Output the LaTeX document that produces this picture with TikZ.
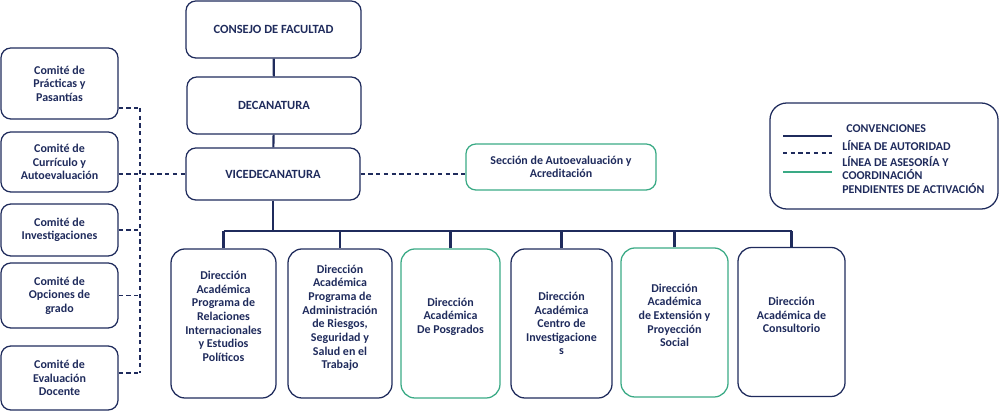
\documentclass[tikz,border=0pt]{standalone}
\usepackage{fontspec}
\setmainfont{Carlito}
\usepackage{xcolor}
\usetikzlibrary{positioning}
\definecolor{navy}{HTML}{1F2B5C}
\definecolor{verde}{HTML}{3AAA85}

\begin{document}
\begin{tikzpicture}[
  x=0.025cm, y=-0.025cm,
  every node/.style={font=\bfseries\fontsize{8.5}{9.7}\selectfont, text=navy, align=center},
  caja/.style={draw=navy, line width=0.9pt, rounded corners=7pt, inner sep=1pt},
  cajaverde/.style={caja, draw=verde},
  grande/.style={font=\bfseries\fontsize{8.9}{10}\selectfont},
  direccion/.style={caja, rounded corners=10pt, minimum height=3.725cm},
  comite/.style={caja, minimum width=2.925cm},
  autoridad/.style={navy, line width=1.5pt},
  asesoria/.style={navy, line width=0.8pt, dash pattern=on 3pt off 2.5pt},
  activacion/.style={verde, line width=0.9pt}
]
  \useasboundingbox (0,0) rectangle (1000,411);

  % linea de autoridad
  \node[caja, grande, minimum width=4.375cm, minimum height=1.425cm] (consejo) at (273.5,29.5) {CONSEJO DE FACULTAD};
  \node[caja, grande, minimum width=4.35cm, minimum height=1.425cm] (decanatura) at (274,105.5) {DECANATURA};
  \node[caja, grande, minimum width=4.35cm, minimum height=1.3cm] (vice) at (273,174) {VICEDECANATURA};
  \node[cajaverde, minimum width=4.75cm, minimum height=1.15cm] (seccion) at (561,167) {Sección de Autoevaluación y\\Acreditación};

  \node[direccion, minimum width=2.625cm] (dir1) at (223.5,323.5) {};
  \node[direccion, minimum width=2.6cm] (dir2) at (340,323.5) {};
  \node[direccion, draw=verde, minimum width=2.475cm] (dir3) at (450.5,323.5) {};
  \node[direccion, minimum width=2.525cm] (dir4) at (561.5,323.5) {};
  \node[direccion, draw=verde, minimum width=2.675cm] (dir5) at (674.5,322.5) {};
  \node[direccion, minimum width=2.675cm] (dir6) at (791.5,322) {};
  \node (txt1) at ([yshift=5pt]dir1.center) {Dirección\\Académica\\Programa de\\Relaciones\\Internacionales\\y Estudios\\Políticos};
  \node (txt2) at ([yshift=4pt]dir2.center) {Dirección\\Académica\\Programa de\\Administración\\de Riesgos,\\Seguridad y\\Salud en el\\Trabajo};
  \node (txt3) at ([yshift=5pt]dir3.center) {Dirección\\Académica\\De Posgrados};
  \node (txt4) at ([yshift=0pt]dir4.center) {Dirección\\Académica\\Centro de\\Investigacione\\s};
  \node (txt5) at ([yshift=5pt]dir5.center) {Dirección\\Académica\\de Extensión y\\Proyección\\Social};
  \node (txt6) at ([yshift=5pt]dir6.center) {Dirección\\Académica de\\Consultorio};

  % comites
  \node[comite, minimum height=1.775cm] (com1) at (59.5,83.5) {Comité de\\Prácticas y\\Pasantías};
  \node[comite, minimum height=1.5cm] (com2) at (59.5,162) {Comité de\\Currículo y\\Autoevaluación};
  \node[comite, minimum height=1.3cm] (com3) at (59.5,230) {Comité de\\Investigaciones};
  \node[comite, minimum height=1.625cm] (com4) at (59.5,295.5) {Comité de\\Opciones de\\grado};
  \node[comite, minimum height=1.6cm] (com5) at (59.5,378) {Comité de\\Evaluación\\Docente};

  \draw[autoridad] (consejo) -- (decanatura);
  \draw[autoridad] (decanatura) -- (vice);
  \draw[autoridad] (vice.south) -- ++(0,30) coordinate (bus);
  \draw[autoridad] (dir1.north |- bus) -- (dir6.north |- bus);
  \foreach \d in {dir1,dir2,dir3,dir4,dir5,dir6}
    \draw[autoridad] (\d.north) -- (\d.north |- bus);

  % asesoria
  \draw[asesoria] (vice.east) -- (vice.east -| seccion.west);
  \coordinate (asesor top) at (140,108);
  \coordinate (asesor bot) at (140,373);
  \draw[asesoria] (asesor top) -- (asesor bot);
  \draw[asesoria] (com1.east |- asesor top) -- (asesor top);
  \draw[asesoria] (com2.east |- vice.west) -- (vice.west);
  \draw[asesoria] (com3.east) -- (com3.east -| asesor top);
  \draw[asesoria] (com4.east) -- (com4.east -| asesor top);
  \draw[asesoria] (com5.east |- asesor bot) -- (asesor bot);

  % convenciones
  \node[caja, rounded corners=12pt, minimum width=5.7cm, minimum height=2.65cm] (convenciones) at (884,156) {};
  \coordinate (l1a) at (783,136); \coordinate (l1b) at (832,136);
  \coordinate (l2a) at (783,153); \coordinate (l2b) at (832,153);
  \coordinate (l3a) at (783,172); \coordinate (l3b) at (832,172);
  \draw[navy, line width=0.9pt] (l1a) -- (l1b);
  \draw[asesoria] (l2a) -- (l2b);
  \draw[activacion] (l3a) -- (l3b);
  \node[anchor=west, inner sep=0pt] (conv) at (846,129) {CONVENCIONES};
  \node[anchor=west, inner sep=0pt] (lin1) at (842,146) {LÍNEA DE AUTORIDAD};
  \node[anchor=west, inner sep=0pt, align=left] (lin2) at (842,168) {LÍNEA DE ASESORÍA Y\\COORDINACIÓN};
  \node[anchor=west, inner sep=0pt] (lin3) at (842,189) {PENDIENTES DE ACTIVACIÓN};
\end{tikzpicture}
\end{document}
